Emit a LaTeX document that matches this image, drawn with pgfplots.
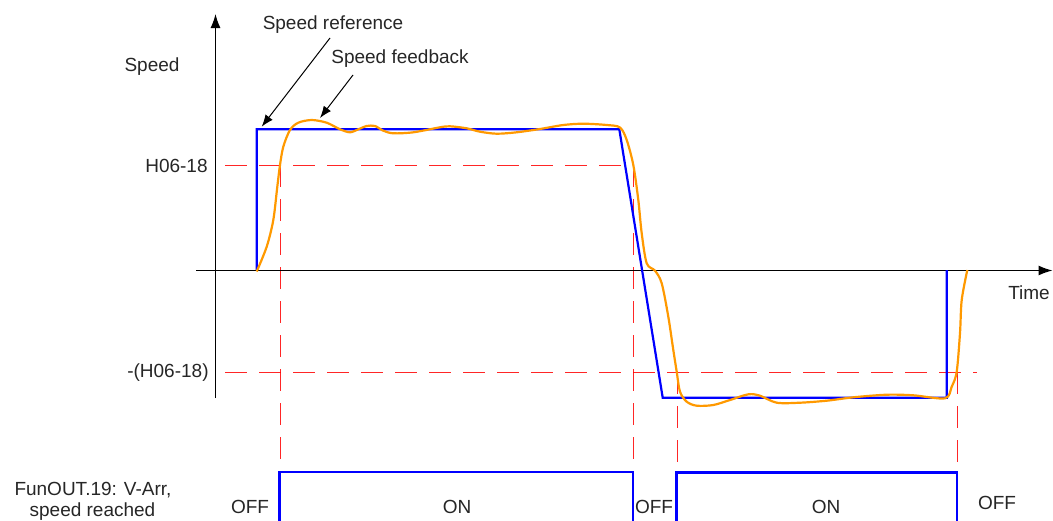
\documentclass[border=0pt]{standalone}
\usepackage{pgfplots}
\pgfplotsset{compat=1.18}
\usetikzlibrary{arrows.meta}
\usepackage{fontspec}
\setmainfont{Liberation Sans}
\definecolor{fbor}{RGB}{255,153,0}
\definecolor{refbl}{RGB}{0,0,255}
\definecolor{dred}{RGB}{255,0,0}
\tikzset{lbl/.style={font=\fontsize{9.5}{11}\selectfont, text=black!85, inner sep=0pt}}
\begin{document}
\begin{tikzpicture}
\begin{axis}[
  x=0.5pt, y=0.5pt, scale only axis,
  xmin=0, xmax=1053, ymin=0, ymax=520, y dir=reverse,
  hide axis, clip=false,
]
\coordinate (BL) at (axis cs:0,520);
\coordinate (TR) at (axis cs:1053,0);
% red dashed guides
\addplot[color=dred, opacity=0.85, line width=0.6pt, dash pattern=on 11pt off 6pt] coordinates {(225,165.5) (633.5,165.5)};
\addplot[color=dred, opacity=0.85, line width=0.6pt, dash pattern=on 11pt off 6pt] coordinates {(225,372.5) (977,372.5)};
\addplot[color=dred, opacity=0.85, line width=0.6pt, dash pattern=on 11pt off 6pt] coordinates {(280.5,165) (280.5,520)};
\addplot[color=dred, opacity=0.85, line width=0.6pt, dash pattern=on 11pt off 6pt] coordinates {(633.5,165) (633.5,520)};
\addplot[color=dred, opacity=0.85, line width=0.6pt, dash pattern=on 11pt off 6pt] coordinates {(677.5,372) (677.5,520)};
\addplot[color=dred, opacity=0.85, line width=0.6pt, dash pattern=on 11pt off 6pt] coordinates {(957.5,372) (957.5,520)};
% axes
\addplot[black, line width=0.6pt, -{Latex[length=7pt,width=5pt]}] coordinates {(215.5,398) (215.5,14)};
\addplot[black, line width=0.6pt, -{Latex[length=7pt,width=5pt]}] coordinates {(196,270.5) (1052.5,270.5)};
% speed reference
\addplot[refbl, line width=1.1pt] coordinates {(256.7,270) (256.7,129.3) (619.3,129.3) (662.7,397.7) (946.7,397.7) (946.7,270)};
% speed feedback
\addplot[fbor, line width=1.1pt, smooth, tension=0.5] coordinates {
(256.7,271.5) (266.7,246.7) (273.3,220) (277.3,186.7) (280,165) (283.3,146.7)
(290,130) (298.3,122.7) (311.7,120) (326.7,122.7) (340,129.3) (350,132.3)
(358.3,129.3) (366.7,126) (375,126) (383.3,130.7) (393.3,133.3) (413.3,132.3)
(440,127.3) (450,126.3) (466.7,128.3) (480,131.7) (496.7,133.7) (516.7,132.3)
(540,129) (563.3,125) (583.3,123.7) (606.7,125) (620,127.5)
(626.7,140) (633.3,165) (638.3,200) (641.7,233.3) (646.7,263.3) (655,270.7)
(661.7,283.3) (668.3,316.7) (673.3,350) (676.7,371.7) (680,391.7) (686.7,401.7)
(696.7,405.7) (713.3,405) (730,400) (748.3,394.3) (760,395.7) (776.7,402.7)
(800,402.7) (826.7,400.7) (853.3,397.3) (886.7,394.7) (913.3,395.3) (945,398.3)
(951.7,386.7) (956.7,371.7) (960,333) (961.7,300) (967.3,270)};
% speed reached signal
\addplot[refbl, line width=1.1pt] coordinates {(279.5,521) (279.5,472) (633.3,472) (633.3,521)};
\addplot[refbl, line width=1.1pt] coordinates {(676.5,521) (676.5,472.5) (956.7,472.5) (956.7,521)};
% annotation arrows
\addplot[black, line width=0.5pt, -{Latex[length=6pt,width=4.5pt]}] coordinates {(330,38) (261.7,126.7)};
\addplot[black, line width=0.5pt, -{Latex[length=6pt,width=4.5pt]}] coordinates {(353,75) (320,118)};
% texts
\node[lbl] at (axis cs:333,25) {Speed reference};
\node[lbl] at (axis cs:400,59) {Speed feedback};
\node[lbl] at (axis cs:152,67) {Speed};
\node[lbl, anchor=east] at (axis cs:208,166) {H06-18};
\node[lbl, anchor=east] at (axis cs:209,373) {-(H06-18)};
\node[lbl] at (axis cs:1029,293) {Time};
\node[lbl] at (axis cs:93,490) {FunOUT.19: V-Arr,};
\node[lbl] at (axis cs:92.5,512) {speed reached};
\node[lbl] at (axis cs:250,507) {OFF};
\node[lbl] at (axis cs:457,507) {ON};
\node[lbl] at (axis cs:654,507) {OFF};
\node[lbl] at (axis cs:826,507) {ON};
\node[lbl] at (axis cs:997,503) {OFF};
\end{axis}
\pgfresetboundingbox
\path[use as bounding box] (BL) rectangle (TR);
\end{tikzpicture}
\end{document}
